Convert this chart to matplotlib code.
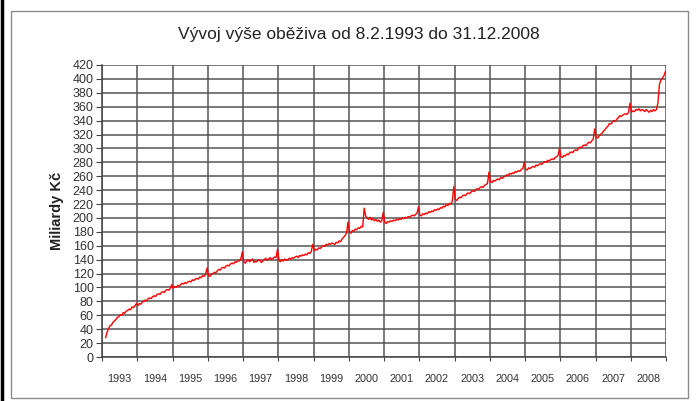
import numpy as np
import matplotlib
matplotlib.use("Agg")
import matplotlib.pyplot as plt
from matplotlib.patches import Rectangle
from matplotlib.lines import Line2D

plt.rcParams['font.family'] = ['Liberation Sans', 'DejaVu Sans']

title = "Vývoj výše oběživa od 8.2.1993 do 31.12.2008"
ylabel = "Miliardy Kč"
years = list(range(1993, 2009))
yticks = list(range(0, 421, 20))

# semi-monthly readings (billions CZK), last value of each year = year-end peak
v1993 = [28, 36, 41, 45, 46, 50, 52, 54, 57, 58, 61, 60, 64, 63, 66, 67, 69, 68, 72, 71, 74, 77]
v1994 = [74, 77, 76, 79, 80, 82, 81, 84, 85, 84, 87, 88, 87, 90, 91, 90, 93, 94, 93, 96, 97, 96, 99, 104]
v1995 = [99, 101, 100, 103, 102, 104, 106, 105, 107, 106, 108, 109, 108, 111, 110, 112, 113, 112, 115, 114, 117, 116, 119, 128]
v1996 = [117, 116, 119, 120, 122, 121, 124, 126, 125, 128, 129, 128, 131, 132, 131, 134, 135, 134, 137, 136, 139, 138, 141, 151]
v1997 = [137, 135, 138, 140, 137, 139, 141, 136, 138, 137, 140, 139, 136, 138, 140, 142, 139, 141, 143, 140, 142, 144, 143, 155]
v1998 = [139, 137, 140, 138, 141, 139, 140, 142, 141, 143, 142, 144, 145, 143, 146, 145, 147, 146, 148, 147, 150, 149, 152, 162]
v1999 = [153, 155, 154, 157, 156, 158, 160, 159, 162, 161, 163, 162, 164, 163, 162, 165, 164, 167, 166, 170, 172, 175, 178, 194]
v2000 = [180, 178, 182, 181, 184, 183, 186, 185, 188, 187, 214, 203, 200, 198, 201, 197, 199, 196, 198, 195, 197, 194, 196, 208]
v2001 = [194, 192, 195, 194, 196, 195, 197, 196, 198, 197, 199, 198, 200, 199, 201, 200, 202, 201, 203, 204, 203, 205, 207, 216]
v2002 = [204, 203, 206, 205, 207, 206, 209, 208, 210, 209, 212, 211, 213, 212, 215, 214, 217, 216, 219, 218, 221, 220, 224, 245]
v2003 = [227, 225, 228, 230, 229, 232, 233, 232, 235, 236, 235, 238, 239, 238, 241, 242, 241, 244, 245, 244, 247, 248, 250, 266]
v2004 = [252, 251, 254, 253, 255, 256, 255, 258, 257, 259, 260, 262, 261, 264, 263, 265, 264, 267, 266, 268, 267, 270, 271, 280]
v2005 = [270, 269, 272, 271, 273, 274, 273, 276, 275, 277, 278, 277, 280, 281, 280, 283, 282, 284, 285, 284, 287, 288, 290, 300]
v2006 = [288, 287, 290, 289, 292, 291, 294, 295, 294, 297, 298, 297, 300, 302, 301, 304, 305, 304, 307, 309, 308, 311, 314, 328]
v2007 = [316, 315, 318, 320, 322, 325, 327, 330, 332, 336, 335, 338, 340, 339, 342, 344, 347, 346, 348, 349, 350, 349, 352, 365]
v2008 = [352, 354, 353, 356, 355, 357, 354, 356, 355, 353, 356, 354, 352, 355, 353, 356, 354, 356, 365, 392, 398, 401, 404, 410]

values = np.array(v1993 + v1994 + v1995 + v1996 + v1997 + v1998 + v1999 + v2000 +
                  v2001 + v2002 + v2003 + v2004 + v2005 + v2006 + v2007 + v2008, dtype=float)
start = 1993 + 38 / 365.0  # 8.2.1993
t = start + np.arange(len(values)) / 24.0

W, H = 697, 401
fig = plt.figure(figsize=(W / 100, H / 100), dpi=100)
fig.patch.set_facecolor('white')

# outer frames
fig.add_artist(Rectangle((11 / W, 1 - 398 / H), (688 - 11) / W, (398 - 11) / H,
                         transform=fig.transFigure, fill=False, edgecolor='#8c8c8c', lw=1.0))
fig.add_artist(Line2D([1.5 / W, 1.5 / W], [0, 1], transform=fig.transFigure, color='black', lw=2.5))

ax = fig.add_axes([102 / W, 1 - 357 / H, (666 - 102) / W, (357 - 65) / H])
ax.plot(t, values, color='#ff0000', lw=1.0)

ax.set_xlim(1993, 2009)
ax.set_ylim(0, 420)
ax.set_yticks(yticks)
ax.set_yticklabels([str(v) for v in yticks], fontsize=9, color='#333333')
ax.set_xticks([y + 0.0 for y in years] + [2009])
ax.set_xticklabels([])
ax.set_xticks([y + 0.5 for y in years], minor=True)
ax.set_xticklabels([str(y) for y in years], minor=True, fontsize=7.8, color='#333333')
ax.tick_params(axis='x', which='minor', length=0, pad=12)
ax.tick_params(axis='x', which='major', length=3, color='#444444', direction='out')
ax.tick_params(axis='y', length=4, color='#444444', pad=2)

ax.grid(True, which='major', color='#555555', lw=1.1)
ax.set_axisbelow(True)
for s in ['top', 'right']:
    ax.spines[s].set_visible(False)
for s in ['left', 'bottom']:
    ax.spines[s].set_color('#444444')
    ax.spines[s].set_linewidth(1.1)

ax.set_ylabel(ylabel, fontsize=10.5, fontweight='bold', color='#222222', labelpad=6)
fig.text(359 / W, 1 - 35 / H, title, ha='center', va='center', fontsize=12.5, color='#222222')

fig.savefig('out.png', dpi=100)
